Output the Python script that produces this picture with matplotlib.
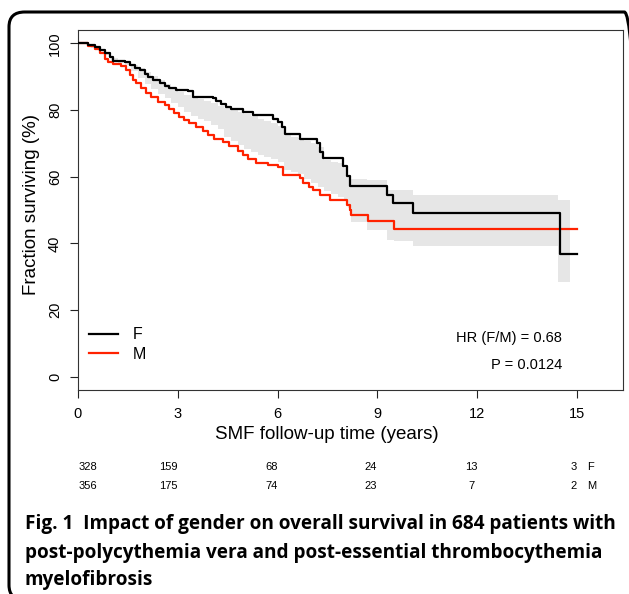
import numpy as np
import matplotlib
matplotlib.use("Agg")
import matplotlib.pyplot as plt
from matplotlib.patches import FancyBboxPatch

# ---------------- data ----------------
f_time = [0, 0.3, 0.5, 0.65, 0.8, 0.95, 1.05, 1.4, 1.55, 1.7, 1.85, 2.0, 2.1, 2.25,
          2.45, 2.6, 2.75, 2.95, 3.3, 3.45, 4.05, 4.15, 4.3, 4.45, 4.6, 4.95, 5.25,
          5.85, 6.0, 6.12, 6.22, 6.67, 7.17, 7.27, 7.37, 7.97, 8.07, 8.17, 9.3, 9.47,
          10.07, 14.5, 15.0]
f_surv = [100, 99.5, 98.8, 98.0, 97.0, 95.8, 94.8, 94.3, 93.5, 92.7, 91.9, 90.9, 89.8,
          89.0, 88.0, 87.2, 86.5, 86.0, 85.6, 84.0, 83.5, 82.6, 81.8, 81.0, 80.2, 79.5,
          78.4, 77.3, 76.4, 75.0, 72.8, 71.2, 70.0, 67.5, 65.6, 63.1, 60.1, 57.1, 54.6,
          52.1, 49.2, 36.9, 36.9]

m_time = [0, 0.3, 0.5, 0.65, 0.8, 0.9, 1.05, 1.3, 1.45, 1.55, 1.65, 1.75, 1.9, 2.05,
          2.2, 2.4, 2.6, 2.75, 2.9, 3.05, 3.2, 3.35, 3.55, 3.75, 3.9, 4.1, 4.35, 4.55,
          4.8, 4.95, 5.1, 5.35, 5.7, 6.0, 6.15, 6.67, 6.77, 6.95, 7.07, 7.27, 7.57,
          8.07, 8.17, 8.22, 8.72, 9.49, 15.0]
m_surv = [100, 99.3, 98.3, 97.0, 95.4, 94.4, 93.8, 93.1, 92.0, 90.5, 89.0, 88.0, 86.6,
          85.2, 83.8, 82.4, 81.6, 80.3, 79.2, 78.0, 77.0, 76.0, 74.8, 73.6, 72.6, 71.4,
          70.5, 69.2, 67.6, 66.4, 65.3, 64.1, 63.6, 63.0, 60.6, 59.6, 58.1, 57.0, 56.1,
          54.6, 53.1, 51.6, 49.9, 48.6, 46.7, 44.4, 44.4]

band_time = [0, 0.2, 0.4, 0.6, 0.8, 1.0, 1.2, 1.4, 1.6, 1.8, 2.0, 2.2, 2.4, 2.6, 2.8,
             3.0, 3.2, 3.4, 3.6, 3.8, 4.0, 4.2, 4.4, 4.6, 4.8, 5.0, 5.2, 5.4, 5.6, 5.8,
             6.0, 6.2, 6.4, 6.6, 6.8, 7.0, 7.2, 7.4, 7.6, 7.8, 8.0, 8.1, 8.2, 8.7, 9.3,
             9.5, 10.07, 14.43, 14.8]
band_upper = [100, 99.6, 99.0, 98.2, 96.8, 95.6, 95.0, 94.4, 93.6, 92.6, 91.4, 90.2,
              89.0, 87.8, 86.6, 85.4, 84.6, 83.9, 83.2, 82.6, 82.0, 81.3, 80.6, 80.0,
              79.4, 78.8, 78.2, 77.4, 76.6, 76.0, 75.2, 72.5, 72.0, 71.5, 70.8, 70.0,
              68.8, 65.0, 64.5, 64.0, 62.5, 59.8, 59.3, 59.0, 56.1, 56.1, 54.6, 52.9]
band_lower = [100, 99.4, 98.6, 97.6, 96.4, 95.0, 94.2, 93.6, 91.8, 89.5, 87.8, 86.3,
              84.8, 83.5, 82.2, 80.8, 79.5, 78.3, 77.4, 76.6, 75.6, 74.4, 72.0, 70.8,
              69.6, 68.4, 67.4, 66.4, 65.8, 65.2, 64.4, 62.0, 61.4, 60.8, 59.4, 58.2,
              57.0, 55.8, 54.8, 53.8, 52.6, 50.5, 46.5, 44.0, 41.0, 40.7, 39.2, 28.3]

groups = ["F", "M"]
x_ticks = [0, 3, 6, 9, 12, 15]
y_ticks = [0, 20, 40, 60, 80, 100]
risk_f = [328, 159, 68, 24, 13, 3]
risk_m = [356, 175, 74, 23, 7, 2]
hr_text = "HR (F/M) = 0.68"
p_text = "P = 0.0124"
caption = ["Fig. 1  Impact of gender on overall survival in 684 patients with",
           "post-polycythemia vera and post-essential thrombocythemia",
           "myelofibrosis"]

# ---------------- figure ----------------
W, H = 629, 594
fig = plt.figure(figsize=(W / 100, H / 100), dpi=100)
plt.rcParams['font.family'] = ['Liberation Sans', 'DejaVu Sans']

# rounded outer border
border = FancyBboxPatch((9 / W, (H - 600) / H), (640 - 9) / W, (600 - 12) / H,
                        boxstyle="round,pad=0,rounding_size=0.025",
                        transform=fig.transFigure, fill=False, lw=2.2,
                        ec="black", clip_on=False)
fig.patches.append(border)

ax = fig.add_axes([78 / W, 1 - 390 / H, (623 - 78) / W, (390 - 30) / H])

red = "#ff2200"
bu = band_upper + [band_upper[-1]]
bl = band_lower + [band_lower[-1]]
ax.fill_between(band_time, bl, bu, step="post", color="#e6e6e6", lw=0, zorder=1)
ax.step(f_time, f_surv, where="post", color="black", lw=1.6, zorder=3, label=groups[0])
ax.step(m_time, m_surv, where="post", color=red, lw=1.6, zorder=2, label=groups[1])

ax.set_xlim(0, 16.38)
ax.set_ylim(-4, 104)
ax.set_xticks(x_ticks)
ax.set_yticks(y_ticks)
ax.set_xticklabels([str(v) for v in x_ticks], fontsize=10.5)
ax.set_yticklabels([str(v) for v in y_ticks], fontsize=10.5, rotation=90, va="center")
ax.tick_params(axis="x", direction="out", length=5.5, width=0.8, color="#222222", pad=7)
ax.tick_params(axis="y", direction="out", length=5.5, width=0.8, color="#222222", pad=6)
for s in ax.spines.values():
    s.set_linewidth(0.8)
    s.set_color("#333333")

ax.set_xlabel("SMF follow-up time (years)", fontsize=13.5, labelpad=3)
ax.xaxis.label.set_x(0.457)
ax.set_ylabel("Fraction surviving (%)", fontsize=13.5, labelpad=6)
ax.yaxis.label.set_y(0.515)

leg = ax.legend(loc="lower left", bbox_to_anchor=(0.0, 0.047), frameon=False,
                fontsize=11.5, handlelength=1.8, handletextpad=0.9, labelspacing=0.3,
                borderaxespad=0.3)

ax.text(0.888, 0.144, hr_text, transform=ax.transAxes, ha="right", va="center",
        fontsize=10.5)
ax.text(0.888, 0.069, p_text, transform=ax.transAxes, ha="right", va="center",
        fontsize=10.5)

# risk table
risk_x = [87.5, 168.5, 272, 371, 471, 574]
for xi, nf, nm in zip(risk_x, risk_f, risk_m):
    fig.text(xi / W, 1 - 467 / H, str(nf), ha="center", va="center", fontsize=8)
    fig.text(xi / W, 1 - 486 / H, str(nm), ha="center", va="center", fontsize=8)
fig.text(587 / W, 1 - 467 / H, groups[0], ha="left", va="center", fontsize=8)
fig.text(587 / W, 1 - 486 / H, groups[1], ha="left", va="center", fontsize=8)

# caption
cap_y = [524, 553, 580]
for line, yy in zip(caption, cap_y):
    fig.text(25 / W, 1 - yy / H, line, ha="left", va="center", fontsize=13.7,
             fontweight="bold", family=["Open Sans", "DejaVu Sans"])

fig.savefig("out.png", dpi=100)
